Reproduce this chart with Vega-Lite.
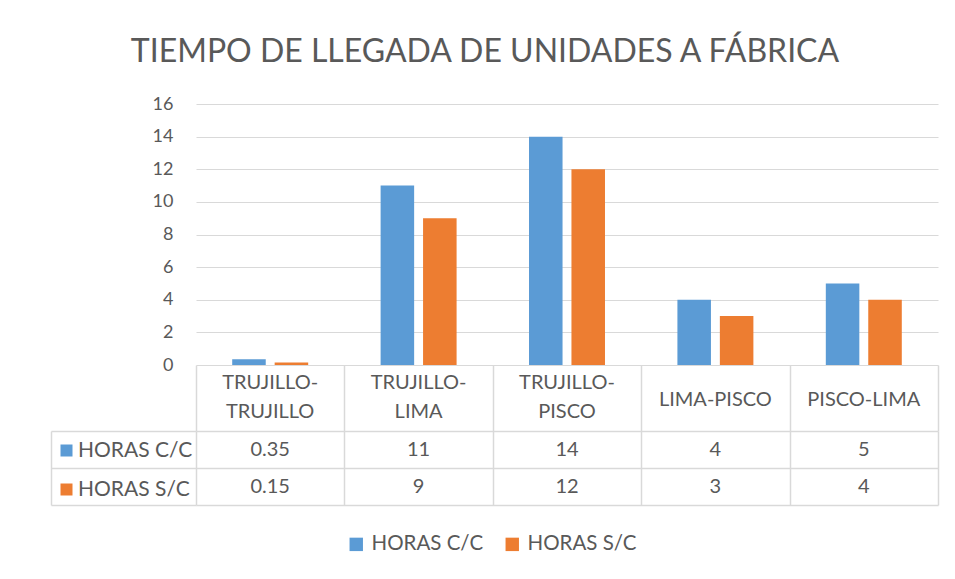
{
  "$schema": "https://vega.github.io/schema/vega-lite/v6.json",
  "padding": {"left": 50, "top": 36, "right": 18, "bottom": 10},
  "autosize": {"type": "pad"},
  "background": "white",
  "title": {"text": "TIEMPO DE LLEGADA DE UNIDADES A FÁBRICA", "fontSize": 32, "font": "Lato", "fontWeight": 400, "color": "#595959", "anchor": "middle", "frame": "group", "offset": 26, "dx": -82},
  "datasets": {
    "horas": [
      {"ruta": "TRUJILLO-TRUJILLO", "serie": "HORAS C/C", "horas": 0.35},
      {"ruta": "TRUJILLO-TRUJILLO", "serie": "HORAS S/C", "horas": 0.15},
      {"ruta": "TRUJILLO-LIMA", "serie": "HORAS C/C", "horas": 11},
      {"ruta": "TRUJILLO-LIMA", "serie": "HORAS S/C", "horas": 9},
      {"ruta": "TRUJILLO-PISCO", "serie": "HORAS C/C", "horas": 14},
      {"ruta": "TRUJILLO-PISCO", "serie": "HORAS S/C", "horas": 12},
      {"ruta": "LIMA-PISCO", "serie": "HORAS C/C", "horas": 4},
      {"ruta": "LIMA-PISCO", "serie": "HORAS S/C", "horas": 3},
      {"ruta": "PISCO-LIMA", "serie": "HORAS C/C", "horas": 5},
      {"ruta": "PISCO-LIMA", "serie": "HORAS S/C", "horas": 4}
    ],
    "rutas": [
      {"ruta": "TRUJILLO-TRUJILLO", "etiqueta": ["TRUJILLO-", "TRUJILLO"]},
      {"ruta": "TRUJILLO-LIMA", "etiqueta": ["TRUJILLO-", "LIMA"]},
      {"ruta": "TRUJILLO-PISCO", "etiqueta": ["TRUJILLO-", "PISCO"]},
      {"ruta": "LIMA-PISCO", "etiqueta": ["LIMA-PISCO"]},
      {"ruta": "PISCO-LIMA", "etiqueta": ["PISCO-LIMA"]}
    ]
  },
  "spacing": 0,
  "bounds": "flush",
  "resolve": {"scale": {"fill": "independent"}, "legend": {"fill": "independent"}},
  "vconcat": [
    {
      "width": 742,
      "height": 261,
      "data": {"name": "horas"},
      "mark": {"type": "bar"},
      "encoding": {
        "x": {"field": "ruta", "type": "nominal", "scale": {"domain": ["TRUJILLO-TRUJILLO", "TRUJILLO-LIMA", "TRUJILLO-PISCO", "LIMA-PISCO", "PISCO-LIMA"], "paddingInner": 0.488, "paddingOuter": 0.244}, "axis": null},
        "xOffset": {"field": "serie", "type": "nominal", "scale": {"domain": ["HORAS C/C", "HORAS S/C"], "paddingInner": 0.21}},
        "y": {"field": "horas", "type": "quantitative", "scale": {"domain": [0, 16], "nice": false}, "axis": {"values": [0, 2, 4, 6, 8, 10, 12, 14, 16], "title": null, "grid": true, "gridColor": "#D9D9D9", "gridWidth": 1.2, "domain": false, "ticks": false, "labelFontSize": 18, "labelColor": "#595959", "labelFont": "Lato", "labelPadding": 23}},
        "color": {"field": "serie", "type": "nominal", "scale": {"domain": ["HORAS C/C", "HORAS S/C"], "range": ["#5B9BD5", "#ED7D31"]}, "legend": {"orient": "none", "legendX": 150, "legendY": 430, "padding": 0, "title": null, "direction": "horizontal", "symbolType": "square", "symbolSize": 180, "symbolStrokeWidth": 0, "labelFontSize": 20.5, "labelColor": "#595959", "labelFont": "Lato", "columnPadding": 18, "labelOffset": 5}}
      }
    },
    {
      "width": 742,
      "height": 66,
      "data": {"name": "rutas"},
      "encoding": {
        "x": {"field": "ruta", "type": "nominal", "scale": {"domain": ["TRUJILLO-TRUJILLO", "TRUJILLO-LIMA", "TRUJILLO-PISCO", "LIMA-PISCO", "PISCO-LIMA"], "paddingInner": 0, "paddingOuter": 0}, "axis": {"title": null, "labels": false, "ticks": false, "domain": false, "grid": true, "tickBand": "extent", "gridColor": "#D9D9D9", "gridWidth": 1.5}},
        "text": {"field": "etiqueta"}
      },
      "layer": [
        {
          "transform": [{"filter": "length(datum.etiqueta) == 2"}],
          "mark": {"type": "text", "fontSize": 20, "font": "Lato", "color": "#595959", "lineHeight": 29, "dy": -15}
        },
        {
          "transform": [{"filter": "length(datum.etiqueta) == 1"}],
          "mark": {"type": "text", "fontSize": 20, "font": "Lato", "color": "#595959", "dy": 2}
        }
      ]
    },
    {
      "width": 742,
      "height": 74,
      "data": {"name": "horas"},
      "resolve": {"axis": {"y": "independent"}},
      "layer": [
        {
          "mark": {"type": "text", "fontSize": 20, "font": "Lato", "color": "#595959"},
          "encoding": {
            "x": {"field": "ruta", "type": "nominal", "scale": {"domain": ["TRUJILLO-TRUJILLO", "TRUJILLO-LIMA", "TRUJILLO-PISCO", "LIMA-PISCO", "PISCO-LIMA"], "paddingInner": 0, "paddingOuter": 0}, "axis": {"title": null, "labels": false, "ticks": false, "domain": false, "grid": true, "tickBand": "extent", "gridColor": "#D9D9D9", "gridWidth": 1.5}},
            "y": {"field": "serie", "type": "nominal", "scale": {"domain": ["HORAS C/C", "HORAS S/C"], "paddingInner": 0, "paddingOuter": 0}, "axis": {"title": null, "labels": false, "domain": false, "ticks": true, "tickBand": "extent", "tickSize": 145, "tickColor": "#D9D9D9", "tickWidth": 1.5, "grid": true, "gridColor": "#D9D9D9", "gridWidth": 1.5}},
            "text": {"field": "horas", "type": "nominal"}
          }
        },
        {
          "mark": {"type": "square", "opacity": 0},
          "encoding": {
            "y": {"field": "serie", "type": "nominal", "scale": {"domain": ["HORAS C/C", "HORAS S/C"], "paddingInner": 0, "paddingOuter": 0}, "axis": {"orient": "left", "offset": 145, "title": null, "labels": false, "ticks": false, "grid": false, "domain": true, "domainColor": "#D9D9D9", "domainWidth": 1.5}},
            "fill": {"field": "serie", "type": "nominal", "scale": {"domain": ["HORAS C/C", "HORAS S/C"], "range": ["#5B9BD5", "#ED7D31"]}, "legend": {"orient": "none", "legendX": -140, "legendY": 9, "title": null, "direction": "vertical", "symbolType": "square", "symbolSize": 144, "symbolStrokeWidth": 0, "symbolOpacity": 1, "labelFontSize": 21, "labelFont": "Lato", "labelColor": "#595959", "labelOffset": 1, "rowPadding": 17, "padding": 0}}
          }
        }
      ]
    }
  ],
  "config": {
    "view": {"stroke": null},
    "font": "Lato"
  }
}
